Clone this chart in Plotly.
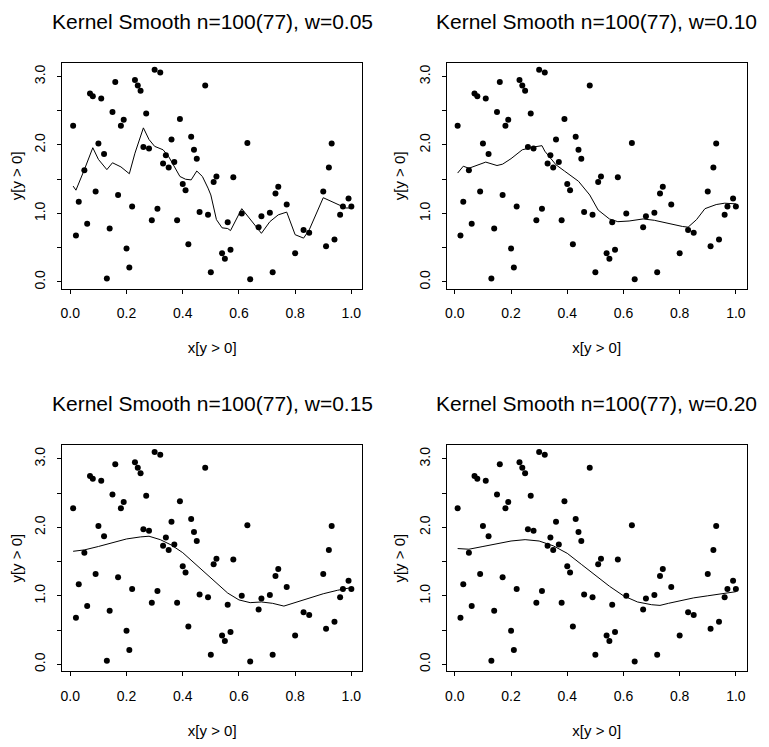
import plotly.graph_objects as go
from plotly.subplots import make_subplots

# points with y > 0 (77 of 100)
x_pts = [0.01, 0.02, 0.03, 0.05, 0.06, 0.07, 0.08, 0.09, 0.10, 0.11, 0.12, 0.13, 0.14, 0.15,
         0.16, 0.17, 0.18, 0.19, 0.20, 0.21, 0.22, 0.23, 0.24, 0.25, 0.26, 0.27, 0.28, 0.29,
         0.30, 0.31, 0.32, 0.33, 0.34, 0.35, 0.36, 0.37, 0.38, 0.39, 0.40, 0.41, 0.42, 0.43,
         0.44, 0.45, 0.46, 0.48, 0.49, 0.50, 0.51, 0.52, 0.54, 0.55, 0.56, 0.57, 0.58, 0.61,
         0.63, 0.64, 0.67, 0.68, 0.71, 0.72, 0.73, 0.74, 0.77, 0.80, 0.83, 0.85, 0.90, 0.91,
         0.92, 0.93, 0.94, 0.96, 0.97, 0.99, 1.00]
y_pts = [2.28, 0.68, 1.17, 1.63, 0.85, 2.75, 2.71, 1.32, 2.02, 2.68, 1.87, 0.05, 0.78, 2.48,
         2.92, 1.27, 2.28, 2.37, 0.49, 0.21, 1.10, 2.95, 2.87, 2.79, 1.97, 2.46, 1.95, 0.90,
         3.10, 1.07, 3.06, 1.73, 1.85, 1.67, 2.08, 1.75, 0.90, 2.38, 1.43, 1.34, 0.55, 2.12,
         1.93, 1.80, 1.02, 2.87, 0.98, 0.14, 1.46, 1.54, 0.42, 0.34, 0.87, 0.47, 1.53, 1.00,
         2.03, 0.04, 0.80, 0.96, 1.01, 0.14, 1.29, 1.39, 1.13, 0.42, 0.76, 0.72, 1.32, 0.52,
         1.67, 2.02, 0.62, 0.98, 1.10, 1.22, 1.10]

# kernel smooth curves
sm05_x = [0.01, 0.02, 0.05, 0.08, 0.10, 0.13, 0.15, 0.18, 0.21, 0.23, 0.26, 0.28, 0.30, 0.33,
          0.35, 0.37, 0.39, 0.41, 0.43, 0.45, 0.47, 0.49, 0.50, 0.52, 0.54, 0.56, 0.57, 0.61,
          0.64, 0.68, 0.71, 0.74, 0.77, 0.80, 0.83, 0.85, 0.90, 0.94, 0.96, 0.98, 1.00]
sm05_y = [1.40, 1.34, 1.64, 1.96, 1.79, 1.64, 1.74, 1.68, 1.58, 1.88, 2.25, 2.08, 1.98, 1.93,
          1.83, 1.69, 1.54, 1.50, 1.49, 1.62, 1.54, 1.37, 1.27, 0.91, 0.79, 0.78, 0.75, 1.07,
          0.91, 0.71, 0.88, 0.98, 1.02, 0.69, 0.64, 0.76, 1.23, 1.16, 1.12, 1.08, 1.08]

sm10_x = [0.01, 0.03, 0.05, 0.11, 0.15, 0.17, 0.20, 0.24, 0.28, 0.31, 0.32, 0.36, 0.39, 0.44,
          0.48, 0.51, 0.55, 0.58, 0.62, 0.67, 0.71, 0.76, 0.81, 0.83, 0.86, 0.89, 0.93, 0.96,
          1.00]
sm10_y = [1.59, 1.69, 1.66, 1.75, 1.70, 1.72, 1.80, 1.93, 1.97, 1.99, 1.91, 1.71, 1.62, 1.47,
          1.27, 1.05, 0.92, 0.88, 0.89, 0.92, 0.90, 0.85, 0.81, 0.80, 0.91, 1.07, 1.13, 1.15,
          1.14]

sm15_x = [0.01, 0.05, 0.10, 0.15, 0.20, 0.25, 0.28, 0.32, 0.36, 0.40, 0.44, 0.48, 0.52, 0.56,
          0.60, 0.64, 0.68, 0.72, 0.76, 0.80, 0.85, 0.90, 0.95, 1.00]
sm15_y = [1.65, 1.67, 1.72, 1.78, 1.83, 1.86, 1.87, 1.82, 1.74, 1.63, 1.48, 1.33, 1.18, 1.04,
          0.94, 0.90, 0.91, 0.89, 0.85, 0.90, 0.97, 1.03, 1.08, 1.12]

sm20_x = [0.01, 0.05, 0.10, 0.15, 0.20, 0.25, 0.30, 0.35, 0.40, 0.45, 0.50, 0.55, 0.60, 0.65,
          0.70, 0.73, 0.76, 0.80, 0.85, 0.90, 0.95, 1.00]
sm20_y = [1.69, 1.68, 1.72, 1.76, 1.80, 1.82, 1.80, 1.73, 1.62, 1.46, 1.30, 1.14, 1.00, 0.91,
          0.87, 0.86, 0.89, 0.93, 0.97, 1.00, 1.03, 1.06]

widths = ["0.05", "0.10", "0.15", "0.20"]
curves = [(sm05_x, sm05_y), (sm10_x, sm10_y), (sm15_x, sm15_y), (sm20_x, sm20_y)]

FONT = "Liberation Sans, Arial, sans-serif"

# the page body adds an 8px margin, so the figure is 8px smaller on each axis
W, H = 761, 739
fig = make_subplots(
    rows=2, cols=2,
    horizontal_spacing=0.1227, vertical_spacing=0.2577,
    subplot_titles=[f"Kernel Smooth n=100(77), w={w}" for w in widths],
)

for i, (cx, cy) in enumerate(curves):
    r, c = i // 2 + 1, i % 2 + 1
    fig.add_trace(go.Scatter(
        x=x_pts, y=y_pts, mode="markers",
        marker=dict(color="black", size=6), showlegend=False
    ), row=r, col=c)
    fig.add_trace(go.Scatter(
        x=cx, y=cy, mode="lines",
        line=dict(color="black", width=1), showlegend=False
    ), row=r, col=c)

tick_font = dict(family=FONT, size=14, color="black")
label_font = dict(family=FONT, size=15, color="black")

fig.update_xaxes(
    range=[-0.0296, 1.0396],
    tickvals=[0, 0.2, 0.4, 0.6, 0.8, 1.0],
    ticktext=["0.0", "0.2", "0.4", "0.6", "0.8", "1.0"],
    ticks="outside", ticklen=4, tickcolor="black",
    showline=True, linecolor="black", linewidth=1, mirror=True,
    showgrid=False, zeroline=False, automargin=False,
    tickfont=tick_font, ticklabelstandoff=8,
    title=dict(text="x[y > 0]", font=label_font, standoff=22),
)
fig.update_yaxes(
    range=[-0.098, 3.197],
    tickvals=[0, 0.5, 1.0, 1.5, 2.0, 2.5, 3.0],
    ticktext=["0.0", "", "1.0", "", "2.0", "", "3.0"],
    tickangle=-90,
    ticks="outside", ticklen=4, tickcolor="black",
    showline=True, linecolor="black", linewidth=1, mirror=True,
    showgrid=False, zeroline=False, automargin=False,
    tickfont=tick_font, ticklabelstandoff=6,
    title=dict(text="y[y > 0]", font=label_font, standoff=7),
)

for ann in fig.layout.annotations:
    ann.font = dict(family=FONT, size=21, color="black")
    ann.yshift = 28

fig.update_layout(
    width=W, height=H,
    margin=dict(l=54.3, r=22.3, t=55.3, b=75.6),
    paper_bgcolor="white", plot_bgcolor="white",
)

fig.write_html("out.html")
